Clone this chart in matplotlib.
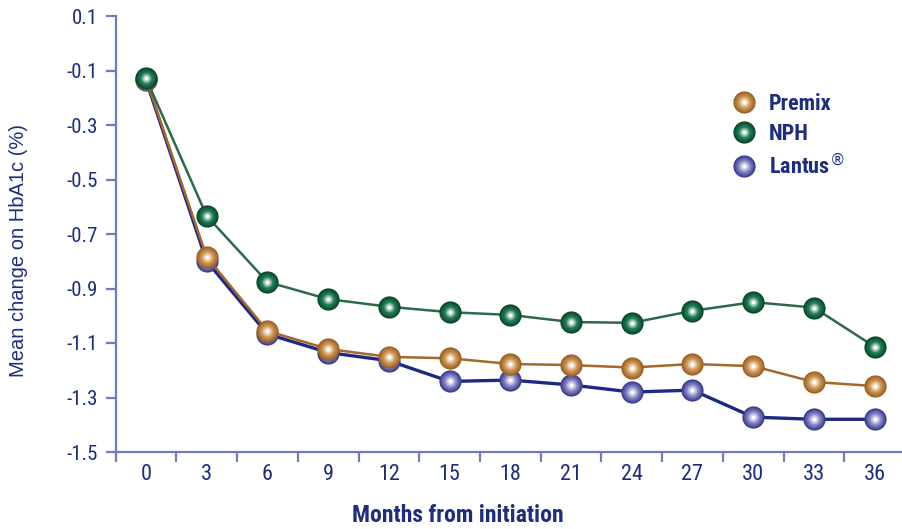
import numpy as np
import matplotlib
matplotlib.use("Agg")
import matplotlib.pyplot as plt
from matplotlib.colors import to_rgb
from matplotlib.legend_handler import HandlerTuple
from matplotlib.lines import Line2D

months = [0, 3, 6, 9, 12, 15, 18, 21, 24, 27, 30, 33, 36]
premix = [-0.13, -0.784, -1.056, -1.122, -1.151, -1.156, -1.177, -1.181, -1.19, -1.177, -1.185, -1.243, -1.258]
nph = [-0.128, -0.634, -0.876, -0.939, -0.967, -0.987, -0.997, -1.023, -1.026, -0.982, -0.95, -0.97, -1.114]
lantus = [-0.135, -0.80, -1.067, -1.135, -1.165, -1.241, -1.236, -1.254, -1.28, -1.273, -1.372, -1.38, -1.38]

navy = "#1f2d7e"
axis_col = "#6f7cbb"
narrow = ["Roboto Condensed", "Archivo Narrow", "Barlow Semi Condensed", "Liberation Sans Narrow", "DejaVu Sans"]

# (label, values, line colour, line width, marker edge, marker body)
series = [
    ("Lantus$^{\u00ae}$", lantus, "#1c2a85", 2.4, "#3d3f8e", "#8a8ac6"),
    ("Premix", premix, "#a5682c", 1.8, "#9c6226", "#cf9a58"),
    ("NPH", nph, "#2c6a49", 1.8, "#0a4a2b", "#23805a"),
]


def sphere(ax, xs, ys, edge, body, size=16, z=3):
    # stack of shrinking circles fading towards a white centre
    handles = []
    e, b, w = np.array(to_rgb(edge)), np.array(to_rgb(body)), np.ones(3)
    steps = 7
    for k in range(steps):
        t = k / (steps - 1)
        if t < 0.5:
            c = e + (b - e) * (t / 0.5)
        else:
            c = b + (w - b) * ((t - 0.5) / 0.5)
        s = size * (1 - 0.85 * t)
        h, = ax.plot(xs, ys, "o", ms=s, color=c, mec="none", zorder=z + k * 0.01)
        handles.append(h)
    return handles


fig = plt.figure(figsize=(9.02, 5.29), dpi=100)
ax = fig.add_axes([115.6 / 902, 1 - 452 / 529, 1 - 115.6 / 902, (452 - 16) / 529])

x = np.arange(len(months))
legend_handles = {}
for i, (name, vals, lc, lw, edge, body) in enumerate(series):
    ax.plot(x, vals, color=lc, lw=lw, zorder=2 + i)
    hs = sphere(ax, x, vals, edge, body, z=3 + i)
    legend_handles[name] = tuple(
        Line2D([], [], marker="o", ls="none", ms=h.get_markersize(), color=h.get_color(), mec="none")
        for h in hs
    )

ax.set_xlim(-0.5, 12.45)
ax.set_ylim(-1.5, 0.1)
ax.set_yticks(np.arange(-1.5, 0.11, 0.2))
ax.set_yticklabels([f"{v:.1f}" for v in np.arange(-1.5, 0.11, 0.2)])
ax.set_xticks(x)
ax.set_xticklabels([str(m) for m in months])
ax.set_xticks(np.arange(-0.5, 12.5, 1), minor=True)

for s in ["top", "right"]:
    ax.spines[s].set_visible(False)
for s in ["left", "bottom"]:
    ax.spines[s].set_color(axis_col)
    ax.spines[s].set_linewidth(1.6)

ax.tick_params(axis="y", direction="out", length=7.5, width=1.6, color=axis_col,
               labelcolor=navy, labelsize=15, pad=5)
ax.tick_params(axis="x", which="major", length=0, labelcolor=navy, labelsize=16, pad=9)
ax.tick_params(axis="x", which="minor", direction="out", length=7.5, width=1.6, color=axis_col)
for lab in ax.get_xticklabels() + ax.get_yticklabels():
    lab.set_family(narrow)

fig.text(458 / 902, 1 - 516 / 529, "Months from initiation", fontsize=17, fontweight="bold",
         color=navy, family=narrow, ha="center", va="center")
fig.text(19 / 902, 1 - 250 / 529, "Mean change on HbA1c (%)", fontsize=14.5, color=navy,
         family=["Liberation Sans", "DejaVu Sans"], rotation=90, ha="center", va="center")

order = ["Premix", "NPH", "Lantus$^{\u00ae}$"]
leg = ax.legend([legend_handles[n] for n in order], order,
                handler_map={tuple: HandlerTuple(ndivide=1, pad=0)},
                loc="upper left", bbox_to_anchor=(711 / 902, 1 - 73 / 529),
                bbox_transform=fig.transFigure, frameon=False,
                handlelength=1.2, handletextpad=0.5, labelspacing=0.35,
                prop={"family": narrow, "weight": "bold", "size": 16})
for t in leg.get_texts():
    t.set_color(navy)

fig.savefig("out.png", dpi=100)
